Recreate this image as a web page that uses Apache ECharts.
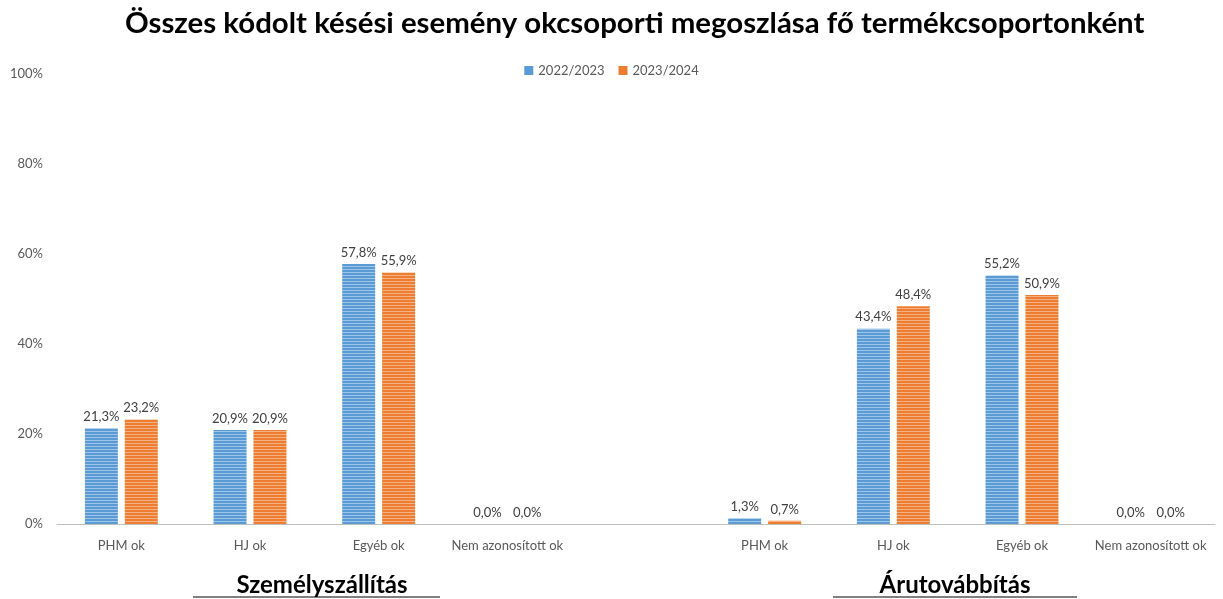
<!DOCTYPE html>
<html>
<head>
<meta charset="utf-8">
<script src="https://cdn.jsdelivr.net/npm/echarts@6/dist/echarts.min.js"></script>
<style>
  html, body { margin: 0; padding: 0; background: #fff; }
  #chart { width: 1223px; height: 599px; }
</style>
</head>
<body>
<div id="chart"></div>
<script>
// okcsoportok, a két termékcsoport között egy üres hellyel
const categories = ['PHM ok', 'HJ ok', 'Egyéb ok', 'Nem azonosított ok', '',
  'PHM ok', 'HJ ok', 'Egyéb ok', 'Nem azonosított ok']
const years = ['2022/2023', '2023/2024']
const values2223 = [21.3, 20.9, 57.8, 0.0, null, 1.3, 43.4, 55.2, 0.0]
const values2324 = [23.2, 20.9, 55.9, 0.0, null, 0.7, 48.4, 50.9, 0.0]
const yTicks = [0, 20, 40, 60, 80, 100]
const groups = ['Személyszállítás', 'Árutovábbítás']

// csíkos kitöltés a bárokhoz
function stripes (base, light) {
  const c = document.createElement('canvas')
  c.width = 4
  c.height = 3
  const ctx = c.getContext('2d')
  ctx.fillStyle = base
  ctx.fillRect(0, 0, 4, 3)
  ctx.fillStyle = light
  ctx.fillRect(0, 2, 4, 1)
  return { image: c, repeat: 'repeat' }
}

const chart = echarts.init(document.getElementById('chart'))
const font = 'Lato, "Open Sans", sans-serif'

const labelOpt = {
  show: true,
  position: 'top',
  distance: 5,
  color: '#404040',
  fontSize: 13,
  fontFamily: font,
  formatter: p => p.value == null ? '' : p.value.toFixed(1).replace('.', ',') + '%'
}

const option = {
  animation: false,
  title: {
    text: 'Összes kódolt késési esemény okcsoporti megoszlása fő termékcsoportonként',
    left: 120,
    top: 4,
    textStyle: { fontFamily: font, fontWeight: 'bold', fontSize: 29.4, color: '#000' }
  },
  legend: {
    data: [
      { name: years[0], itemStyle: { color: '#5b9bd5' } },
      { name: years[1], itemStyle: { color: '#ed7d31' } }
    ],
    top: 59,
    left: 'center',
    itemWidth: 9,
    itemHeight: 9,
    itemGap: 14,
    icon: 'rect',
    textStyle: { color: '#595959', fontSize: 13, fontFamily: font }
  },
  grid: { left: 57, right: 8, top: 74, bottom: 75 },
  xAxis: {
    type: 'category',
    data: categories,
    axisLine: { lineStyle: { color: '#bfbfbf', width: 1 } },
    axisTick: { show: false },
    axisLabel: { color: '#595959', fontSize: 13, fontFamily: font, margin: 15, interval: 0 }
  },
  yAxis: {
    type: 'value',
    min: yTicks[0],
    max: yTicks[yTicks.length - 1],
    interval: 20,
    splitLine: { show: false },
    axisLine: { show: false },
    axisLabel: { color: '#595959', fontSize: 13, fontFamily: font, margin: 14, formatter: '{value}%' }
  },
  graphic: [
    { type: 'text', x: 322, y: 585, style: { text: groups[0], font: 'bold 24px Lato, sans-serif', fill: '#000', align: 'center', verticalAlign: 'middle' } },
    { type: 'line', shape: { x1: 193, y1: 597, x2: 440, y2: 597 }, style: { stroke: '#000', lineWidth: 1 } },
    { type: 'text', x: 955, y: 585, style: { text: groups[1], font: 'bold 24px Lato, sans-serif', fill: '#000', align: 'center', verticalAlign: 'middle' } },
    { type: 'line', shape: { x1: 833, y1: 597, x2: 1077, y2: 597 }, style: { stroke: '#000', lineWidth: 1 } }
  ],
  series: [
    {
      name: years[0],
      type: 'bar',
      data: values2223,
      barWidth: 33,
      barGap: '21%',
      itemStyle: { color: stripes('#5b9bd5', '#9ec4e8') },
      label: labelOpt
    },
    {
      name: years[1],
      type: 'bar',
      data: values2324,
      barWidth: 33,
      itemStyle: { color: stripes('#ed7d31', '#f4b183') },
      label: labelOpt
    }
  ]
}
chart.setOption(option)
</script>
</body>
</html>
